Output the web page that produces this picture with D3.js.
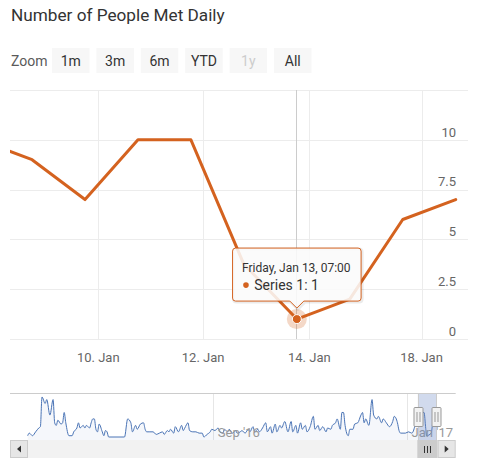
<!DOCTYPE html>
<html><head><meta charset="utf-8">
<script src="https://cdn.jsdelivr.net/npm/d3@7"></script>
<style>body{margin:0;background:#fff;} svg{display:block;font-family:Roboto,"Noto Sans",sans-serif;}</style>
</head><body><svg id="c" width="480" height="476"></svg>
<script>
// ---------- data ----------
const chartTitle = "Number of People Met Daily";
const zoomLabel = "Zoom";
const zoomButtons = ["1m","3m","6m","YTD","1y","All"];
const disabledButtons = ["1y"];
const seriesName = "Series 1";

const historyDates = [
"2016-05-07","2016-05-08","2016-05-10","2016-05-12","2016-05-14","2016-05-15","2016-05-16","2016-05-18","2016-05-19","2016-05-21","2016-05-23","2016-05-24","2016-05-25","2016-05-26","2016-05-28","2016-05-29","2016-05-30","2016-05-31",
"2016-06-02","2016-06-04","2016-06-05","2016-06-07","2016-06-08","2016-06-09","2016-06-11","2016-06-12","2016-06-13","2016-06-15","2016-06-16","2016-06-17","2016-06-18","2016-06-19","2016-06-20","2016-06-21","2016-06-23","2016-06-24","2016-06-25","2016-06-26","2016-06-27",
"2016-07-07","2016-07-09","2016-07-11","2016-07-12","2016-07-14","2016-07-15","2016-07-17","2016-07-19","2016-07-20","2016-07-21","2016-07-23","2016-07-25","2016-07-27","2016-07-29","2016-07-31",
"2016-08-01","2016-08-03","2016-08-04","2016-08-05","2016-08-07","2016-08-08","2016-08-10","2016-08-12","2016-08-13","2016-08-14","2016-08-16","2016-08-17","2016-08-19","2016-08-21","2016-08-23","2016-08-25","2016-08-26","2016-08-28","2016-08-30","2016-08-31",
"2016-09-02","2016-09-04","2016-09-05","2016-09-07","2016-09-08","2016-09-10","2016-09-11","2016-09-13","2016-09-15","2016-09-16","2016-09-18","2016-09-19","2016-09-21","2016-09-23","2016-09-24","2016-09-26","2016-09-27","2016-09-29","2016-09-30",
"2016-10-02","2016-10-04","2016-10-05","2016-10-07","2016-10-08","2016-10-10","2016-10-11","2016-10-13","2016-10-14","2016-10-16","2016-10-18","2016-10-20","2016-10-21","2016-10-23","2016-10-24","2016-10-26","2016-10-27","2016-10-29","2016-10-30",
"2016-11-01","2016-11-03","2016-11-04","2016-11-06","2016-11-07","2016-11-09","2016-11-11","2016-11-12","2016-11-14","2016-11-15","2016-11-17","2016-11-18","2016-11-20","2016-11-21","2016-11-22","2016-11-23","2016-11-25","2016-11-26","2016-11-28","2016-11-29",
"2016-12-01","2016-12-03","2016-12-04","2016-12-05","2016-12-06","2016-12-08","2016-12-10","2016-12-11","2016-12-13","2016-12-14","2016-12-16","2016-12-17","2016-12-19","2016-12-21","2016-12-23","2016-12-24","2016-12-26","2016-12-27","2016-12-28","2016-12-31",
"2017-01-02","2017-01-04","2017-01-06"];
const historyValues = [
1,2,1,2.5,4,4.5,16,13.5,15,9,15,6,5,7,5.5,6,10,6,
1,1,2.5,4,6,4,5,4,5,4,6,7.5,7.5,3.5,2.5,5.5,2.5,1,3,2.5,0.5,
0.5,7.5,6,2.5,5,3.5,5.5,6,3.5,2.5,2.5,2.5,1.5,2,2.5,
1.5,3,2.5,3.5,2,4.5,2.5,5,3,4,6,3,2.5,2.5,2,2,0.5,1.5,2.5,3.5,
3,4,2.5,2,3.5,2.5,3.5,2,3,2,2.5,3,2,3.5,2.5,4.5,2.5,3.5,2.5,
4,6,2.5,4.5,2,5.5,2.5,5,4,6.5,2.5,6.5,2.5,5,2,6,3.5,5,2.5,
4.5,8.5,3.5,5,3,4.5,2.5,4,3.5,5,6,7.5,3.5,10,10,5,1,3.5,3.5,5.5,
6,9,10,6,7.5,5,15,9,7.5,8.5,6,7.5,6,4.5,6.5,8.5,6,3,2,2,
2.5,2,5];
const recentDates = ["2017-01-07T07:00:00Z","2017-01-08T07:00:00Z","2017-01-09T18:00:00Z","2017-01-10T18:00:00Z","2017-01-11T18:00:00Z","2017-01-12T20:00:00Z","2017-01-13T07:00:00Z","2017-01-16T07:00:00Z","2017-01-17T07:00:00Z","2017-01-19T07:00:00Z"];
const recentValues = [10,9,7,10,10,3.75,1,2,6,7];

const viewStart = "2017-01-07T21:00:00Z";
const hoverDate = "2017-01-13T07:00:00Z";
const xTickDates = ["2017-01-10T00:00:00Z","2017-01-12T00:00:00Z","2017-01-14T00:00:00Z","2017-01-18T00:00:00Z"];
const yTickValues = [0,2.5,5,7.5,10,12.5];
const navTickDates = ["2016-09-01T00:00:00Z","2017-01-01T00:00:00Z"];

// ---------- setup ----------
const svg = d3.select("#c");
const C = "#d4621f";
const allDates = historyDates.map(s => d3.isoParse(s + "T00:00:00Z")).concat(recentDates.map(d3.isoParse));
const allValues = historyValues.concat(recentValues);
const pts = allDates.map((t, i) => ({t, v: allValues[i], i}));
const times = allDates.map(d => +d);
function ordIndex(t) {
  t = +t;
  let i = d3.bisectRight(times, t) - 1;
  i = Math.max(0, Math.min(times.length - 2, i));
  return i + (t - times[i]) / (times[i + 1] - times[i]);
}

const P = {l: 10, r: 455.7, t: 90, b: 339, gridR: 468};
const x = d3.scaleLinear().domain([ordIndex(d3.isoParse(viewStart)), times.length - 1]).range([P.l, P.r]);
const y = d3.scaleLinear().domain([yTickValues[0], yTickValues[yTickValues.length - 1]]).range([P.b, P.t]);

// title
svg.append("text").attr("x", 11).attr("y", 21).attr("font-size", 17.2).attr("fill", "#333").text(chartTitle);

// range selector
svg.append("text").attr("x", 11).attr("y", 66).attr("font-size", 14).attr("fill", "#5a5a5a").text(zoomLabel);
const bw = 37.5, bstep = 44.4;
const bx = d3.scaleBand().domain(zoomButtons).range([52, 52 + bstep * (zoomButtons.length - 1) + bw]).paddingInner((bstep - bw) / bstep).paddingOuter(0);
const btn = svg.append("g").selectAll("g").data(zoomButtons).join("g");
btn.append("rect").attr("x", d => bx(d)).attr("y", 48).attr("width", bx.bandwidth()).attr("height", 25).attr("fill", "#f7f7f7");
btn.append("text").attr("x", d => bx(d) + bx.bandwidth() / 2).attr("y", 66).attr("text-anchor", "middle").attr("font-size", 14)
  .attr("fill", d => disabledButtons.includes(d) ? "#cccccc" : "#333").text(d => d);

// grid
const grid = svg.append("g");
grid.selectAll("line.h").data(yTickValues).join("line").attr("x1", P.l).attr("x2", P.gridR)
  .attr("y1", d => Math.round(y(d)) + 0.5).attr("y2", d => Math.round(y(d)) + 0.5).attr("stroke", "#ececec");
const xt = xTickDates.map(d3.isoParse);
grid.selectAll("line.v").data(xt).join("line")
  .attr("x1", d => Math.round(x(ordIndex(d))) + 0.5).attr("x2", d => Math.round(x(ordIndex(d))) + 0.5)
  .attr("y1", P.t).attr("y2", P.b).attr("stroke", "#ececec");

// labels
const fmtY = d3.format("~g");
svg.append("g").selectAll("text").data(yTickValues.slice(0, -1)).join("text")
  .attr("x", 456).attr("y", d => y(d) - 3.3).attr("text-anchor", "end").attr("font-size", 13).attr("fill", "#666").text(fmtY);
const fmtX = d3.utcFormat("%-d. %b");
svg.append("g").selectAll("text").data(xt).join("text")
  .attr("x", d => x(ordIndex(d))).attr("y", 361.5).attr("text-anchor", "middle").attr("font-size", 13).attr("fill", "#666").text(fmtX);

// hovered point
const hp = pts.find(p => +p.t === +d3.isoParse(hoverDate));
const hx = x(hp.i), hy = y(hp.v);
svg.append("line").attr("x1", Math.round(hx) - 0.5).attr("x2", Math.round(hx) - 0.5).attr("y1", P.t).attr("y2", P.b).attr("stroke", "#cccccc");

// main line
svg.append("clipPath").attr("id", "pc").append("rect").attr("x", P.l).attr("y", P.t - 10).attr("width", P.gridR - P.l).attr("height", P.b - P.t + 20);
const visible = pts.filter(p => p.i >= Math.floor(x.domain()[0]));
svg.append("path").datum(visible).attr("clip-path", "url(#pc)")
  .attr("d", d3.line().x(p => x(p.i)).y(p => y(p.v)))
  .attr("fill", "none").attr("stroke", C).attr("stroke-width", 3).attr("stroke-linejoin", "round").attr("stroke-linecap", "round");

svg.append("circle").attr("cx", hx).attr("cy", hy).attr("r", 10).attr("fill", C).attr("fill-opacity", 0.25);
svg.append("circle").attr("cx", hx).attr("cy", hy).attr("r", 4.5).attr("fill", C).attr("stroke", "#fff").attr("stroke-width", 1);

// tooltip
const tg = svg.append("g");
const headerText = d3.utcFormat("%A, %b %e, %H:%M")(hp.t).replace(/\s+/g, " ");
const bodyText = seriesName + ": " + fmtY(hp.v);
const shadow = tg.append("path");
const box = tg.append("path");
const h1 = tg.append("text").attr("font-size", 12).attr("fill", "#333").text(headerText);
const b1 = tg.append("text").attr("font-size", 14).attr("fill", "#333").text(bodyText);
const wBox = Math.max(h1.node().getComputedTextLength() + 20, b1.node().getComputedTextLength() + 32);
const L = hx - wBox / 2, R = hx + wBox / 2, T = hy - 71, B = hy - 18, rr = 3;
const callout = `M${L + rr},${T} H${R - rr} Q${R},${T} ${R},${T + rr} V${B - rr} Q${R},${B} ${R - rr},${B} H${hx + 7} L${hx},${B + 7} L${hx - 7},${B} H${L + rr} Q${L},${B} ${L},${B - rr} V${T + rr} Q${L},${T} ${L + rr},${T} Z`;
shadow.attr("d", callout).attr("transform", "translate(1,1)").attr("fill", "none").attr("stroke", "#000").attr("stroke-opacity", 0.08).attr("stroke-width", 3);
box.attr("d", callout).attr("fill", "rgba(250,250,250,0.87)").attr("stroke", C).attr("stroke-width", 1);
h1.attr("x", L + 9.5).attr("y", hy - 47.5);
tg.append("circle").attr("cx", L + 13.4).attr("cy", hy - 34).attr("r", 2.8).attr("fill", C);
b1.attr("x", L + 21.7).attr("y", hy - 29);

// ---------- navigator ----------
const N = {t: 393, b: 440, l: 27.7, r: 436};
const navX = d3.scaleUtc().domain([allDates[0], allDates[allDates.length - 1]]).range([N.l, N.r]);
const [vmin, vmax] = d3.extent(allValues);
const pad = (vmax - vmin) * 0.1;
const navY = d3.scaleLinear().domain([vmin - pad, vmax + pad]).range([441, N.t]);

const nt = navTickDates.map(d3.isoParse);
svg.append("g").selectAll("line").data(nt).join("line")
  .attr("x1", d => Math.round(navX(d)) + 0.5).attr("x2", d => Math.round(navX(d)) + 0.5)
  .attr("y1", N.t).attr("y2", N.b).attr("stroke", "#e6e6e6");

svg.append("path").datum(pts)
  .attr("d", d3.area().curve(d3.curveMonotoneX).x(p => navX(p.t)).y0(N.b).y1(p => navY(p.v)))
  .attr("fill", "#335cad").attr("fill-opacity", 0.05);
svg.append("path").datum(pts)
  .attr("d", d3.line().curve(d3.curveMonotoneX).x(p => navX(p.t)).y(p => navY(p.v)))
  .attr("fill", "none").attr("stroke", "#4a74b6").attr("stroke-width", 1);

const fmtN = d3.utcFormat("%b '%y");
svg.append("g").selectAll("text").data(nt).join("text")
  .attr("x", d => navX(d) + 4.5).attr("y", 436.5).attr("font-size", 13).attr("fill", "#999").text(fmtN);

const selL = navX(d3.isoParse(viewStart)), selR = navX(allDates[allDates.length - 1]);
svg.append("rect").attr("x", selL).attr("y", N.t).attr("width", selR - selL).attr("height", N.b - N.t).attr("fill", "rgba(102,133,194,0.3)");
svg.append("path").attr("d", `M${P.l},${N.t + 0.5} H${P.r} M${Math.round(selL) + 0.5},${N.t} V${N.b} M${Math.round(selR) + 0.5},${N.t} V${N.b}`)
  .attr("fill", "none").attr("stroke", "#cccccc");

// scrollbar
const S = {t: 440, h: 18};
svg.append("rect").attr("x", N.l).attr("y", S.t + 0.5).attr("width", P.r - 18 - N.l).attr("height", S.h - 1).attr("fill", "#f2f2f2").attr("stroke", "#f2f2f2");
[[P.l, -1], [P.r - 18, 1]].forEach(([bxp, dir]) => {
  svg.append("rect").attr("x", bxp + 0.5).attr("y", S.t + 0.5).attr("width", 17).attr("height", S.h - 1).attr("fill", "#e6e6e6").attr("stroke", "#cccccc");
  const cx = bxp + 9, cy = S.t + 9;
  svg.append("path").attr("d", `M${cx - 2 * dir},${cy - 3.5} L${cx + 2 * dir},${cy} L${cx - 2 * dir},${cy + 3.5} Z`).attr("fill", "#333");
});
svg.append("rect").attr("x", selL).attr("y", S.t + 0.5).attr("width", selR - selL + 1).attr("height", S.h - 1).attr("fill", "#cccccc").attr("stroke", "#cccccc");
const rc = (selL + selR + 1) / 2;
svg.append("path").attr("d", [-3, 0, 3].map(o => `M${Math.round(rc + o) + 0.5},${S.t + 6} V${S.t + 13}`).join(" "))
  .attr("stroke", "#333").attr("stroke-width", 1);

// handles
[selL, selR].forEach(hxp => {
  const g = svg.append("g").attr("transform", `translate(${Math.round(hxp) + 0.5},417)`);
  g.append("rect").attr("x", -4.5).attr("y", -9.5).attr("width", 9).attr("height", 19).attr("rx", 1).attr("fill", "#f2f2f2").attr("stroke", "#999");
  g.append("path").attr("d", "M-1.5,-5 V5 M1.5,-5 V5").attr("stroke", "#999");
});
</script></body></html>
